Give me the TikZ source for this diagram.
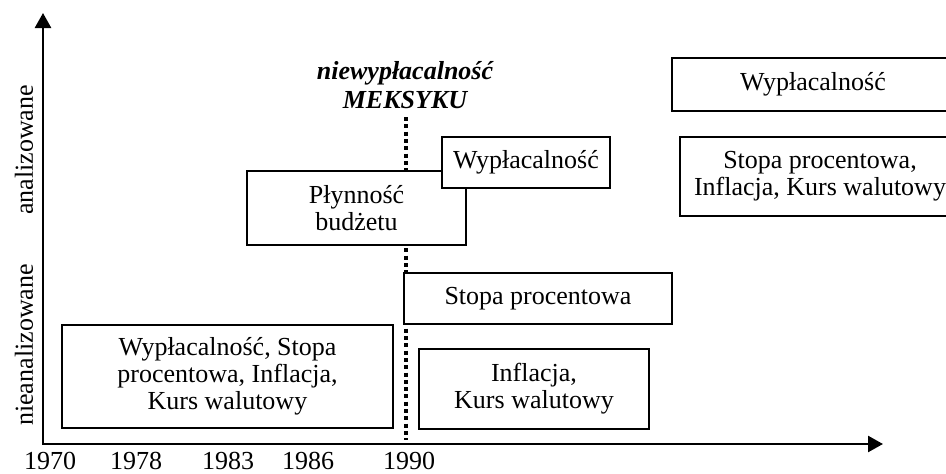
\documentclass[tikz,border=0pt]{standalone}
\usepackage{fontspec}
\setmainfont{Liberation Serif}
\usetikzlibrary{arrows.meta}
\begin{document}
\begin{tikzpicture}[x=1pt,y=-1pt,
  every node/.style={font=\fontsize{26}{27}\selectfont, inner sep=0pt},
  box/.style={draw, fill=white, line width=2.3pt, align=center},
  axis/.style={line width=2.6pt, {Triangle[length=15pt,width=16pt]}-{Triangle[length=15pt,width=16pt]}},
  crisis/.style={line width=4pt, dash pattern=on 4pt off 3.3pt},
  ]
\useasboundingbox (0,0) rectangle (946,474);
\coordinate (ytop) at (43,13);
\coordinate (o) at (43,444);
\coordinate (xend) at (883,444);
\draw[axis] (ytop) -- (o) -- (xend);

\foreach \yr/\xx in {1970/50,1978/136,1983/228,1986/308,1990/409}
  \node[anchor=base] (y\yr) at (\xx,469.5) {\yr};

\node[rotate=90] (anal) at (24,150) {analizowane};
\node[rotate=90] (nieanal) at (24,345) {nieanalizowane};

\node[font=\fontsize{26}{29}\selectfont\bfseries\itshape, align=center] (mex) at (405,85) {niewypłacalność\\MEKSYKU};
\coordinate (c0) at (406,117);
\coordinate (c1) at (406,440);
\draw[crisis] (c0) -- (c1);

\node[box, minimum width=331pt, minimum height=103pt] (all) at (227.5,376.5) {Wypłacalność, Stopa\\procentowa, Inflacja,\\Kurs walutowy};
\node[box, minimum width=219pt, minimum height=74pt] (plyn) at (356.5,208) {Płynność\\budżetu};
\node[box, minimum width=168pt, minimum height=51pt] (wyp1) at (526,162.5) {Wypłacalność};
\node[box, minimum width=268pt, minimum height=51pt] (stopa) at (538,298.5) {Stopa procentowa};
\node[box, minimum width=230pt, minimum height=80pt] (infl) at (534,389) {Inflacja,\\Kurs walutowy};
\node[box, minimum width=282pt, minimum height=53pt] (wyp2) at (813,84.5) {Wypłacalność};
\node[box, minimum width=280pt, minimum height=79pt] (reszta) at (820,176.5) {Stopa procentowa,\\Inflacja, Kurs walutowy};
\end{tikzpicture}
\end{document}
